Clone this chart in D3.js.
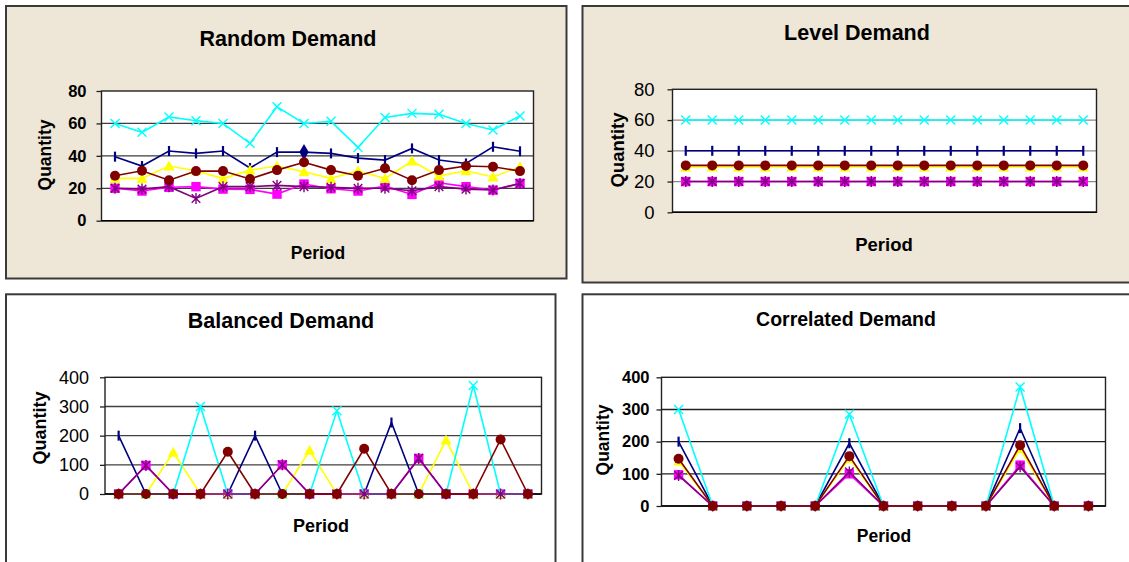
<!DOCTYPE html>
<html>
<head>
<meta charset="utf-8">
<script src="https://cdn.jsdelivr.net/npm/d3@7"></script>
<style>
  html, body { margin: 0; padding: 0; background: #ffffff; }
  svg { display: block; font-family: "Liberation Sans", Arial, sans-serif; }
</style>
</head>
<body>
<svg id="chart" width="1129" height="562"></svg>
<script>
// ---- categories ----
const periods = [1, 2, 3, 4, 5, 6, 7, 8, 9, 10, 11, 12, 13, 14, 15, 16];
const correlatedPeriods = [1, 2, 3, 4, 5, 6, 7, 8, 9, 10, 11, 12, 13];

// ---- tick labels ----
const smallTicks = [0, 20, 40, 60, 80];
const largeTicks = [0, 100, 200, 300, 400];

// ---- Random demand ----
const randomNavy    = [39.5, 33.7, 43, 41.5, 43, 32.5, 42.3, 42.3, 41.5, 38.6, 37.4, 44.6, 37.4, 35.3, 45.6, 42.8];
const randomMagenta = [20, 18.3, 20.6, 21, 19.5, 19.3, 16.4, 22.6, 19.7, 18.3, 21.3, 16.2, 23.4, 21, 18.9, 23];
const randomYellow  = [26.1, 26.1, 33.7, 30.8, 26, 31.2, 33.7, 30.2, 26.1, 30.8, 26, 36.8, 27.5, 30.8, 27, 33.3];
const randomCyan    = [60, 54.5, 64, 61.7, 60, 47.7, 70.3, 60, 61.3, 45.2, 63.7, 66.2, 65.6, 60, 56, 64.6];
const randomPurple  = [20, 19.5, 21, 13.7, 21, 21, 21.8, 21, 20.6, 20, 20, 18.5, 21, 19.5, 18.9, 23];
const randomMaroon  = [27.7, 30.8, 25, 30.6, 30.6, 25.7, 31.2, 36, 31.2, 27.7, 32.3, 25, 31.2, 33.7, 33.3, 30.6];
const randomNavyDiamondPeriods = [8];

// ---- Level demand ----
const levelNavy    = [40, 40, 40, 40, 40, 40, 40, 40, 40, 40, 40, 40, 40, 40, 40, 40];
const levelMagenta = [20, 20, 20, 20, 20, 20, 20, 20, 20, 20, 20, 20, 20, 20, 20, 20];
const levelYellow  = [29.5, 29.5, 29.5, 29.5, 29.5, 29.5, 29.5, 29.5, 29.5, 29.5, 29.5, 29.5, 29.5, 29.5, 29.5, 29.5];
const levelCyan    = [60, 60, 60, 60, 60, 60, 60, 60, 60, 60, 60, 60, 60, 60, 60, 60];
const levelPurple  = [20, 20, 20, 20, 20, 20, 20, 20, 20, 20, 20, 20, 20, 20, 20, 20];
const levelMaroon  = [30.5, 30.5, 30.5, 30.5, 30.5, 30.5, 30.5, 30.5, 30.5, 30.5, 30.5, 30.5, 30.5, 30.5, 30.5, 30.5];

// ---- Balanced demand ----
const balancedNavy    = [200, 0, 0, 0, 0, 200, 0, 0, 0, 0, 245, 0, 0, 0, 0, 0];
const balancedMagenta = [0, 98, 0, 0, 0, 0, 100, 0, 0, 0, 0, 122, 0, 0, 0, 0];
const balancedYellow  = [0, 0, 143, 0, 0, 0, 0, 150, 0, 0, 0, 0, 185, 0, 0, 0];
const balancedCyan    = [0, 0, 0, 300, 0, 0, 0, 0, 285, 0, 0, 0, 0, 372, 0, 0];
const balancedPurple  = [0, 98, 0, 0, 0, 0, 100, 0, 0, 0, 0, 122, 0, 0, 0, 0];
const balancedMaroon  = [0, 0, 0, 0, 145, 0, 0, 0, 0, 155, 0, 0, 0, 0, 187, 0];

// ---- Correlated demand ----
const correlatedNavy    = [200, 0, 0, 0, 0, 195, 0, 0, 0, 0, 242, 0, 0];
const correlatedMagenta = [97, 0, 0, 0, 0, 100, 0, 0, 0, 0, 127, 0, 0];
const correlatedYellow  = [140, 0, 0, 0, 0, 148, 0, 0, 0, 0, 178, 0, 0];
const correlatedCyan    = [300, 0, 0, 0, 0, 285, 0, 0, 0, 0, 370, 0, 0];
const correlatedPurple  = [95, 0, 0, 0, 0, 106, 0, 0, 0, 0, 122, 0, 0];
const correlatedMaroon  = [147, 0, 0, 0, 0, 155, 0, 0, 0, 0, 189, 0, 0];

// ---- series styles (drawing order: later series sit on top) ----
const seriesStyles = [
  { key: "navy",    color: "#000080", marker: "tick" },
  { key: "magenta", color: "#FF00FF", marker: "square" },
  { key: "yellow",  color: "#FFFF00", marker: "triangle" },
  { key: "cyan",    color: "#00FFFF", marker: "cross" },
  { key: "purple",  color: "#800080", marker: "asterisk" },
  { key: "maroon",  color: "#800000", marker: "circle" }
];

const panels = [
  {
    title: "Random Demand", cats: periods, ticks: smallTicks, max: 80,
    values: { navy: randomNavy, magenta: randomMagenta, yellow: randomYellow, cyan: randomCyan, purple: randomPurple, maroon: randomMaroon },
    diamonds: { navy: randomNavyDiamondPeriods },
    box: { x: 5, y: 5, w: 562.5, h: 274.5 }, bg: "#EEE6D6",
    plot: { x0: 101.5, x1: 533.5, y0: 91, y1: 220.7 },
    titlePos: [288, 46], titleSize: 21.5,
    tickBold: true, tickSize: 16.5, tickGap: 10,
    yLabelPos: [51, 155], xLabelPos: [318, 259], labelSize: 17.5,
    grid: "#3c3c3c"
  },
  {
    title: "Level Demand", cats: periods, ticks: smallTicks, max: 80,
    values: { navy: levelNavy, magenta: levelMagenta, yellow: levelYellow, cyan: levelCyan, purple: levelPurple, maroon: levelMaroon },
    diamonds: {},
    box: { x: 581.5, y: 5, w: 600, h: 278.5 }, bg: "#EEE6D6",
    plot: { x0: 672.5, x1: 1096.5, y0: 89.3, y1: 212.3 },
    titlePos: [857, 40], titleSize: 21.5,
    tickBold: false, tickSize: 18.5, tickGap: 13,
    yLabelPos: [624, 150], xLabelPos: [884, 251], labelSize: 18.5,
    grid: "#8a8a8a"
  },
  {
    title: "Balanced Demand", cats: periods, ticks: largeTicks, max: 400,
    values: { navy: balancedNavy, magenta: balancedMagenta, yellow: balancedYellow, cyan: balancedCyan, purple: balancedPurple, maroon: balancedMaroon },
    diamonds: {},
    box: { x: 5, y: 293.3, w: 551.5, h: 300 }, bg: "#FFFFFF",
    plot: { x0: 105, x1: 541.5, y0: 377.3, y1: 494 },
    titlePos: [281, 328], titleSize: 21.5,
    tickBold: false, tickSize: 18, tickGap: 11,
    yLabelPos: [46, 428], xLabelPos: [321, 532], labelSize: 18,
    grid: "#404040"
  },
  {
    title: "Correlated Demand", cats: correlatedPeriods, ticks: largeTicks, max: 400,
    values: { navy: correlatedNavy, magenta: correlatedMagenta, yellow: correlatedYellow, cyan: correlatedCyan, purple: correlatedPurple, maroon: correlatedMaroon },
    diamonds: {},
    box: { x: 581.5, y: 293.3, w: 600, h: 300 }, bg: "#FFFFFF",
    plot: { x0: 661.5, x1: 1105.5, y0: 377.3, y1: 506 },
    titlePos: [846, 326], titleSize: 19.5,
    tickBold: true, tickSize: 16.5, tickGap: 7,
    yLabelPos: [609, 440], xLabelPos: [884, 542], labelSize: 17.5,
    grid: "#202020"
  }
];

const svg = d3.select("#chart");

// marker shapes, drawn centred on (0,0)
function drawMarker(g, kind, color) {
  switch (kind) {
    case "tick":
      g.append("line").attr("x1", 0).attr("x2", 0).attr("y1", -5).attr("y2", 5)
        .attr("stroke", color).attr("stroke-width", 2.2);
      break;
    case "diamond":
      g.append("path").attr("d", d3.symbol(d3.symbolDiamond, 75)()).attr("fill", color);
      break;
    case "square":
      g.append("rect").attr("x", -4.7).attr("y", -4.7).attr("width", 9.4).attr("height", 9.4).attr("fill", color);
      break;
    case "triangle":
      g.append("path").attr("d", "M0,-5.5L5.5,4.5L-5.5,4.5Z").attr("fill", color);
      break;
    case "cross":
      g.append("path").attr("d", "M-4.5,-4.5L4.5,4.5M-4.5,4.5L4.5,-4.5")
        .attr("stroke", color).attr("stroke-width", 1.4).attr("fill", "none");
      break;
    case "asterisk":
      g.append("path").attr("d", "M-4.3,-4.3L4.3,4.3M-4.3,4.3L4.3,-4.3M0,-5.5L0,5.5")
        .attr("stroke", color).attr("stroke-width", 1.4).attr("fill", "none");
      break;
    case "circle":
      g.append("circle").attr("r", 5).attr("fill", color);
      break;
  }
}

panels.forEach(p => {
  const g = svg.append("g");

  // chart area frame
  g.append("rect")
    .attr("x", p.box.x + 1).attr("y", p.box.y + 1)
    .attr("width", p.box.w - 2).attr("height", p.box.h - 2)
    .attr("fill", p.bg).attr("stroke", "#3a3a3a").attr("stroke-width", 2);

  const x = d3.scalePoint().domain(p.cats).range([p.plot.x0, p.plot.x1]).padding(0.5);
  const y = d3.scaleLinear().domain([0, p.max]).range([p.plot.y1, p.plot.y0]);

  // plot area
  g.append("rect")
    .attr("x", p.plot.x0).attr("y", p.plot.y0)
    .attr("width", p.plot.x1 - p.plot.x0).attr("height", p.plot.y1 - p.plot.y0)
    .attr("fill", "#FFFFFF");

  // horizontal gridlines
  g.append("g").selectAll("line")
    .data(p.ticks.filter(t => t > 0 && t < p.max))
    .join("line")
    .attr("x1", p.plot.x0).attr("x2", p.plot.x1)
    .attr("y1", d => y(d)).attr("y2", d => y(d))
    .attr("stroke", p.grid).attr("stroke-width", 1.3);

  // plot border
  g.append("rect")
    .attr("x", p.plot.x0).attr("y", p.plot.y0)
    .attr("width", p.plot.x1 - p.plot.x0).attr("height", p.plot.y1 - p.plot.y0)
    .attr("fill", "none").attr("stroke", "#222").attr("stroke-width", 1.4);

  // value axis
  const axis = g.append("g")
    .attr("transform", `translate(${p.plot.x0},0)`)
    .call(d3.axisLeft(y).tickValues(p.ticks).tickSize(5).tickPadding(p.tickGap));
  axis.select(".domain").remove();
  axis.selectAll(".tick line").attr("stroke", "#222").attr("stroke-width", 1.3);
  axis.selectAll(".tick text")
    .attr("fill", "#000")
    .style("font-family", '"Liberation Sans", Arial, sans-serif')
    .style("font-size", p.tickSize + "px")
    .style("font-weight", p.tickBold ? "bold" : "normal");

  // category axis line
  g.append("line")
    .attr("x1", p.plot.x0).attr("x2", p.plot.x1)
    .attr("y1", p.plot.y1).attr("y2", p.plot.y1)
    .attr("stroke", "#000").attr("stroke-width", 1.6);

  // series: line then markers, in order
  const line = d3.line().x(d => x(d.p)).y(d => y(d.v));
  seriesStyles.forEach(s => {
    const pts = p.cats.map((c, i) => ({ p: c, v: p.values[s.key][i] }));
    const sg = g.append("g");
    sg.append("path").datum(pts).attr("d", line)
      .attr("fill", "none").attr("stroke", s.color).attr("stroke-width", 1.6);
    const dia = p.diamonds[s.key] || [];
    pts.forEach(d => {
      const mg = sg.append("g").attr("transform", `translate(${x(d.p)},${y(d.v)})`);
      drawMarker(mg, dia.includes(d.p) ? "diamond" : s.marker, s.color);
    });
  });

  // titles
  g.append("text")
    .attr("x", p.titlePos[0]).attr("y", p.titlePos[1])
    .attr("text-anchor", "middle")
    .style("font-size", p.titleSize + "px").style("font-weight", "bold")
    .text(p.title);

  g.append("text")
    .attr("transform", `translate(${p.yLabelPos[0]},${p.yLabelPos[1]}) rotate(-90)`)
    .attr("text-anchor", "middle")
    .style("font-size", p.labelSize + "px").style("font-weight", "bold")
    .text("Quantity");

  g.append("text")
    .attr("x", p.xLabelPos[0]).attr("y", p.xLabelPos[1])
    .attr("text-anchor", "middle")
    .style("font-size", p.labelSize + "px").style("font-weight", "bold")
    .text("Period");
});
</script>
</body>
</html>
